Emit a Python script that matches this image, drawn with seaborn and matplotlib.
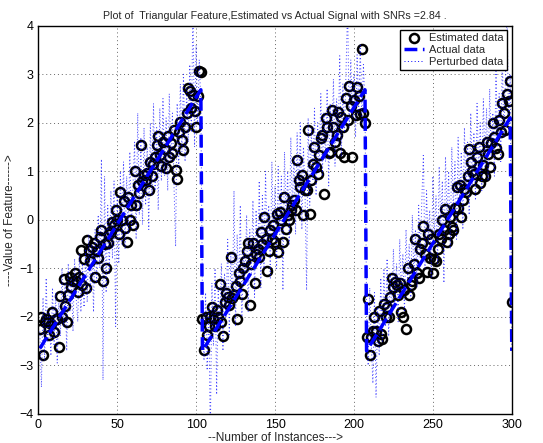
import matplotlib
matplotlib.use("Agg")
import matplotlib.pyplot as plt
from matplotlib.lines import Line2D
import numpy as np
import pandas as pd
import seaborn as sns

sns.set_style("white")
plt.rcParams['font.family'] = ['Liberation Sans', 'DejaVu Sans']

# instances 1..300
instances = list(range(1, 301))

# estimated data (circles)
est_seg1 = [-2.24, -2.0, -2.79, -2.1, -2.05, -2.1, -2.38, -2.14, -1.9, -2.31,
            -2.05, -2.04, -2.62, -1.56, -2.0, -1.21, -1.78, -2.1, -1.55, -1.17,
            -1.38, -1.25, -1.1, -1.27, -1.48, -1.17, -0.62, -1.34, -0.8, -1.41,
            -0.41, -0.62, -0.85, -0.55, -0.48, -1.17, -0.65, -0.79, -0.35, -0.2,
            -1.27, -0.5, -1.0, -0.48, -0.3, -0.24, -0.05, -0.1, 0.2, 0.0,
            -0.3, 0.58, 0.0, 0.38, -0.17, -0.45, 0.48, 0.0, 0.3, -0.1,
            1.0, 0.31, 0.72, 0.55, 1.54, 0.79, 0.92, 0.82, 0.96, 0.61,
            1.2, 0.9, 1.16, 1.3, 1.54, 1.72, 1.34, 1.1, 1.61, 1.45,
            1.06, 1.72, 1.3, 1.58, 1.37, 1.85, 1.03, 0.85, 1.82, 2.02,
            1.65, 1.44, 1.92, 2.2, 2.72, 2.65, 2.3, 2.58, 2.24, 1.92,
            2.56, 3.06, 3.04]
est_seg2 = [-2.04, -2.69, -2.0, -2.38, -2.18, -2.0, -1.8, -2.04, -2.18, -1.85,
            -2.0, -1.32, -2.1, -2.4, -1.7, -1.5, -1.6, -1.75, -0.77, -1.62,
            -1.55, -1.36, -2.04, -1.1, -1.25, -1.53, -1.0, -0.85, -0.64, -0.47,
            -1.75, -0.9, -0.47, -1.3, -0.7, -0.6, -0.77, -0.25, -0.5, 0.05,
            -0.4, -1.05, -0.65, -0.2, -0.39, -0.1, -0.46, 0.13, -0.67, 0.17,
            0.0, -0.46, 0.48, -0.18, 0.1, 0.0, 0.2, 0.31, 0.41, 0.2,
            1.23, 0.82, 0.68, 0.92, 0.1, 0.61, 0.61, 1.85, 0.13, 0.82,
            1.16, 1.5, 1.09, 0.95, 1.33, 1.68, 1.75, 0.54, 2.1, 1.92,
            1.37, 1.4, 2.26, 1.92, 1.6, 1.75, 2.22, 1.37, 2.12, 1.92,
            1.3, 2.5, 2.05, 2.75, 2.35, 1.29, 2.46, 2.15, 2.73, 2.56,
            2.18, 3.52, 2.2, 2.0]
est_seg3 = [-2.42, -1.63, -2.79, -2.42, -2.3, -2.0, -2.3, -2.5, -1.87, -2.35,
            -2.45, -1.74, -2.0, -1.8, -2.0, -1.6, -1.19, -1.39, -1.28, -1.34,
            -1.55, -1.3, -1.9, -2.0, -1.45, -2.25, -1.0, -1.55, -1.34, -1.27,
            -0.9, -0.4, -1.1, -1.2, -0.6, -0.47, -0.13, -0.7, -1.08, -0.3,
            -0.78, -0.4, -1.1, -0.8, -0.85, -0.6, -0.3, -0.4, 0.0, -0.2,
            0.22, -0.45, -0.3, 0.05, -0.15, -0.2, 0.25, 0.68, 0.25, 0.71,
            0.06, 0.4, 0.64, 0.57, 0.9, 1.45, 1.2, 1.0, 0.95, 0.64,
            1.3, 1.5, 0.75, 0.9, 1.12, 0.9, 1.6, 1.35, 1.09, 1.58,
            2.0, 1.7, 1.47, 1.35, 2.05, 1.8, 2.4, 2.2, 1.85, 2.6,
            2.45, 2.87, -1.7]

# perturbed data (dotted line)
pert_seg1 = [-2.3, -3.45, -1.6, -2.9, -1.2, -2.5, -1.9, -2.8, -1.4, -2.6,
             -1.5, -2.95, -1.7, -2.4, -1.0, -2.2, -1.3, -2.7, -0.9, -1.9,
             -1.2, -2.3, -0.8, -1.6, -2.1, -0.7, -1.9, -0.9, -1.8, -0.6,
             -1.7, -0.3, -1.5, -0.5, -1.9, -0.2, -1.3, 0.1, -1.0, 1.25,
             -3.3, 0.9, -1.5, 0.3, -1.1, 0.6, -0.8, 0.8, -2.2, 0.5,
             -0.9, 1.0, -0.5, 1.2, -0.6, 0.9, -0.3, 1.4, -0.2, 0.7,
             1.6, -0.4, 2.2, 0.1, 1.7, -0.1, 1.9, 0.3, 1.5, -0.2,
             2.0, 0.5, 2.4, 0.6, 1.9, 0.2, 2.3, 0.8, 2.5, 0.9,
             2.1, 0.6, 2.6, 1.2, 2.2, 0.7, -0.55, 2.4, 1.1, 2.8,
             1.4, 3.0, 1.2, 2.7, 1.6, 3.2, 1.8, 4.5, 1.5, 3.6,
             2.0, 3.3, 2.4]
pert_seg2 = [-1.6, -2.9, -1.5, -3.1, -1.8, -4.5, -1.3, -2.6, -1.0, -3.6,
             -1.4, -2.3, -0.9, -2.7, -1.1, -2.0, -0.4, -2.4, -0.7, -1.8,
             0.6, -2.2, -0.3, -1.5, 0.3, -2.0, -0.6, -1.3, 0.1, -1.9,
             -0.2, -1.1, 0.4, -1.6, 0.2, -0.9, 0.8, -1.4, 0.5, -1.0,
             1.0, -0.6, 0.3, -1.2, 1.2, -0.4, 0.7, -1.0, 1.1, -0.3,
             0.9, -1.45, 1.4, 0.0, 1.0, -0.5, 1.7, 0.2, 1.3, -0.3,
             1.8, 0.4, 2.0, -0.2, 1.5, 0.6, -1.45, 2.1, 0.3, 1.9,
             0.8, 2.3, 0.5, 2.0, 1.0, 2.6, 0.9, 2.2, 1.2, 2.7,
             0.7, 2.4, 1.5, 2.9, 1.1, 2.5, 1.6, 3.38, 1.3, 2.8,
             1.8, 3.1, 4.4, 1.9, 3.3, 2.1, 3.0, 1.7, 3.4, 2.2,
             3.6, 2.0, 3.2, 2.4]
pert_seg3 = [-1.9, -3.0, -1.4, -2.6, -3.37, -1.5, -3.66, -1.8, -2.8, -1.2,
             -2.5, -1.0, -2.2, -0.8, -2.4, -1.1, -2.0, -0.6, -1.7, -0.9,
             -2.1, -0.4, -1.5, -0.7, -1.9, -0.2, -1.3, -0.5, -1.6, 0.1,
             -1.2, -0.2, -1.4, 0.3, -0.8, 0.4, 1.36, -1.0, 0.6, -0.5,
             0.2, -1.2, 0.9, -0.3, 0.5, -0.9, 1.1, -0.1, 0.8, -1.3,
             1.3, 0.0, 1.0, -0.6, 1.5, 0.2, 1.2, -0.4, 1.7, 0.3,
             1.4, -0.2, 1.9, 0.5, 1.6, 0.1, 2.2, 0.7, 1.8, 0.4,
             2.4, 0.9, 2.0, 0.6, 2.5, 1.1, 2.3, 0.8, 2.7, 1.3,
             2.2, 0.9, 3.1, 1.5, 2.6, 1.2, 3.4, 1.7, 2.9, 4.3,
             1.9, 3.0, -2.6]

# actual sawtooth signal: corner points
actual_x = [1, 103, 104, 207, 208, 299, 300]
actual_y = [-2.65, 2.68, -2.7, 2.68, -2.7, 2.1, -2.7]

df = pd.DataFrame({"instance": instances,
                   "estimated": est_seg1 + est_seg2 + est_seg3,
                   "perturbed": pert_seg1 + pert_seg2 + pert_seg3})
actual = pd.DataFrame({"instance": actual_x, "value": actual_y})

fig = plt.figure(figsize=(5.43, 4.43), dpi=100)
ax = fig.add_axes([0.0705, 0.0655, 0.872, 0.8765])

sns.lineplot(data=df, x="instance", y="estimated", ax=ax, linestyle="",
             marker="o", markersize=6.5, markerfacecolor="none",
             markeredgecolor="black", markeredgewidth=1.8, sort=False)
sns.lineplot(data=actual, x="instance", y="value", ax=ax, color="blue",
             linestyle="--", linewidth=2.5, sort=False, estimator=None)
sns.lineplot(data=df, x="instance", y="perturbed", ax=ax, color="blue",
             linestyle=(0, (1, 2.5)), linewidth=0.7, alpha=0.75,
             sort=False, estimator=None)

ax.set_xlim(0, 300)
ax.set_ylim(-4, 4)
ax.set_xticks(np.arange(0, 301, 50))
ax.set_yticks(np.arange(-4, 5, 1))
ax.grid(True, linestyle=(0, (1, 3)), color="0.4", linewidth=0.7)
ax.tick_params(direction="in", length=4, labelsize=9, colors="black")
for s in ax.spines.values():
    s.set_color("black")
    s.set_linewidth(1.0)

ax.set_title("Plot of  Triangular Feature,Estimated vs Actual Signal with SNRs =2.84 .",
             fontsize=7.7, pad=5)
ax.set_xlabel("--Number of Instances--->", fontsize=8.5, labelpad=1)
ax.set_ylabel("----Value of Feature------>", fontsize=8.5, labelpad=2)

handles = [Line2D([], [], linestyle="", marker="o", markersize=6.5,
                  markerfacecolor="none", markeredgecolor="black", markeredgewidth=1.8),
           Line2D([], [], color="blue", linestyle="--", linewidth=2.5),
           Line2D([], [], color="blue", linestyle=(0, (1, 2.5)), linewidth=0.7)]
leg = ax.legend(handles, ["Estimated data", "Actual data", "Perturbed data"],
                loc="upper right", fontsize=8, fancybox=False, framealpha=1,
                edgecolor="black", borderaxespad=0.4, handlelength=1.8,
                handletextpad=0.5, borderpad=0.3, labelspacing=0.15)
leg.get_frame().set_linewidth(1.0)

fig.savefig("out.png", dpi=100)
